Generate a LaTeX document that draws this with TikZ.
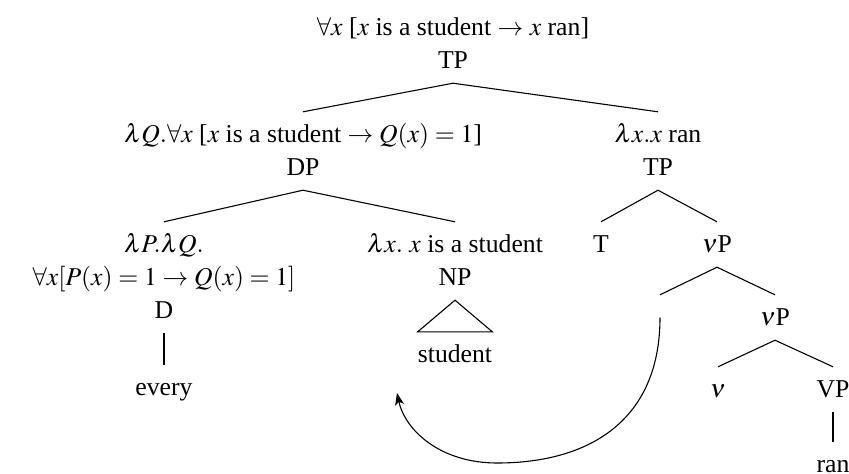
\documentclass[tikz,border=0pt]{standalone}
\usepackage{mathptmx}
\usepackage[no-math]{fontspec}
\setmainfont{Liberation Serif}
\usetikzlibrary{arrows.meta}
\begin{document}
\begin{tikzpicture}[x=1pt,y=-1pt,
  every node/.style={font=\fontsize{25.7}{33}\selectfont},
  lab/.style={anchor=base, inner xsep=0pt, inner ysep=13pt, text height=17pt, text depth=2pt},
  br/.style={line width=1.1pt},
  mv/.style={line width=1.1pt, -{Stealth[length=12pt,width=9pt,inset=3pt]}}]
\useasboundingbox (0,0) rectangle (849,474);
% root
\node[lab] (rsem) at (453,35) {$\forall x$ [$x$ is a student $\rightarrow$ $x$ ran]};
\node[lab] (rtp) at (453,68) {TP};
% DP
\node[lab] (dpsem) at (303,142) {$\lambda Q.\forall x$ [$x$ is a student $\rightarrow Q(x) = 1$]};
\node[lab] (dp) at (303,175) {DP};
% right TP
\node[lab] (tpsem) at (658,142) {$\lambda x.x$ ran};
\node[lab] (tp) at (658,175) {TP};
% D
\node[lab] (dsem1) at (164,252) {$\lambda P.\lambda Q.$};
\node[lab] (dsem2) at (164,285) {$\forall x[P(x) = 1 \rightarrow Q(x) = 1]$};
\node[lab] (d) at (164,318) {D};
\node[lab] (every) at (164,395) {every};
% NP
\node[lab] (npsem) at (455,252) {$\lambda x.$ $x$ is a student};
\node[lab] (np) at (455,285) {NP};
\node[lab] (student) at (455,362) {student};
% T, vP
\node[lab] (t) at (601,252) {T};
\node[lab] (vp1) at (717,252) {$\nu$P};
\node[lab] (e) at (660,325) {};
\node[lab] (vp2) at (775,325) {$\nu$P};
\node[lab] (v) at (718,397) {$\nu$};
\node[lab] (bigvp) at (833,397) {VP};
\node[lab] (ran) at (833,472) {ran};
\coordinate (tip) at (397,393);
% branches
\draw[br] (dpsem.north) -- (rtp.south) -- (tpsem.north);
\draw[br] (dsem1.north) -- (dp.south) -- (npsem.north);
\draw[br] (np.south) -- (student.north west) -- (student.north east) -- cycle;
\draw[br] (d.south) -- (every.north);
\draw[br] (t.north) -- (tp.south) -- (vp1.north);
\draw[br] (e.north) -- (vp1.south) -- (vp2.north);
\draw[br] (v.north) -- (vp2.south) -- (bigvp.north);
\draw[br] (bigvp.south) -- (ran.north);
% movement arrow
\draw[mv] (e.center) .. controls (660,420) and (590,463) .. (497,463)
  .. controls (440,463) and (405,430) .. (tip);
\end{tikzpicture}
\end{document}
